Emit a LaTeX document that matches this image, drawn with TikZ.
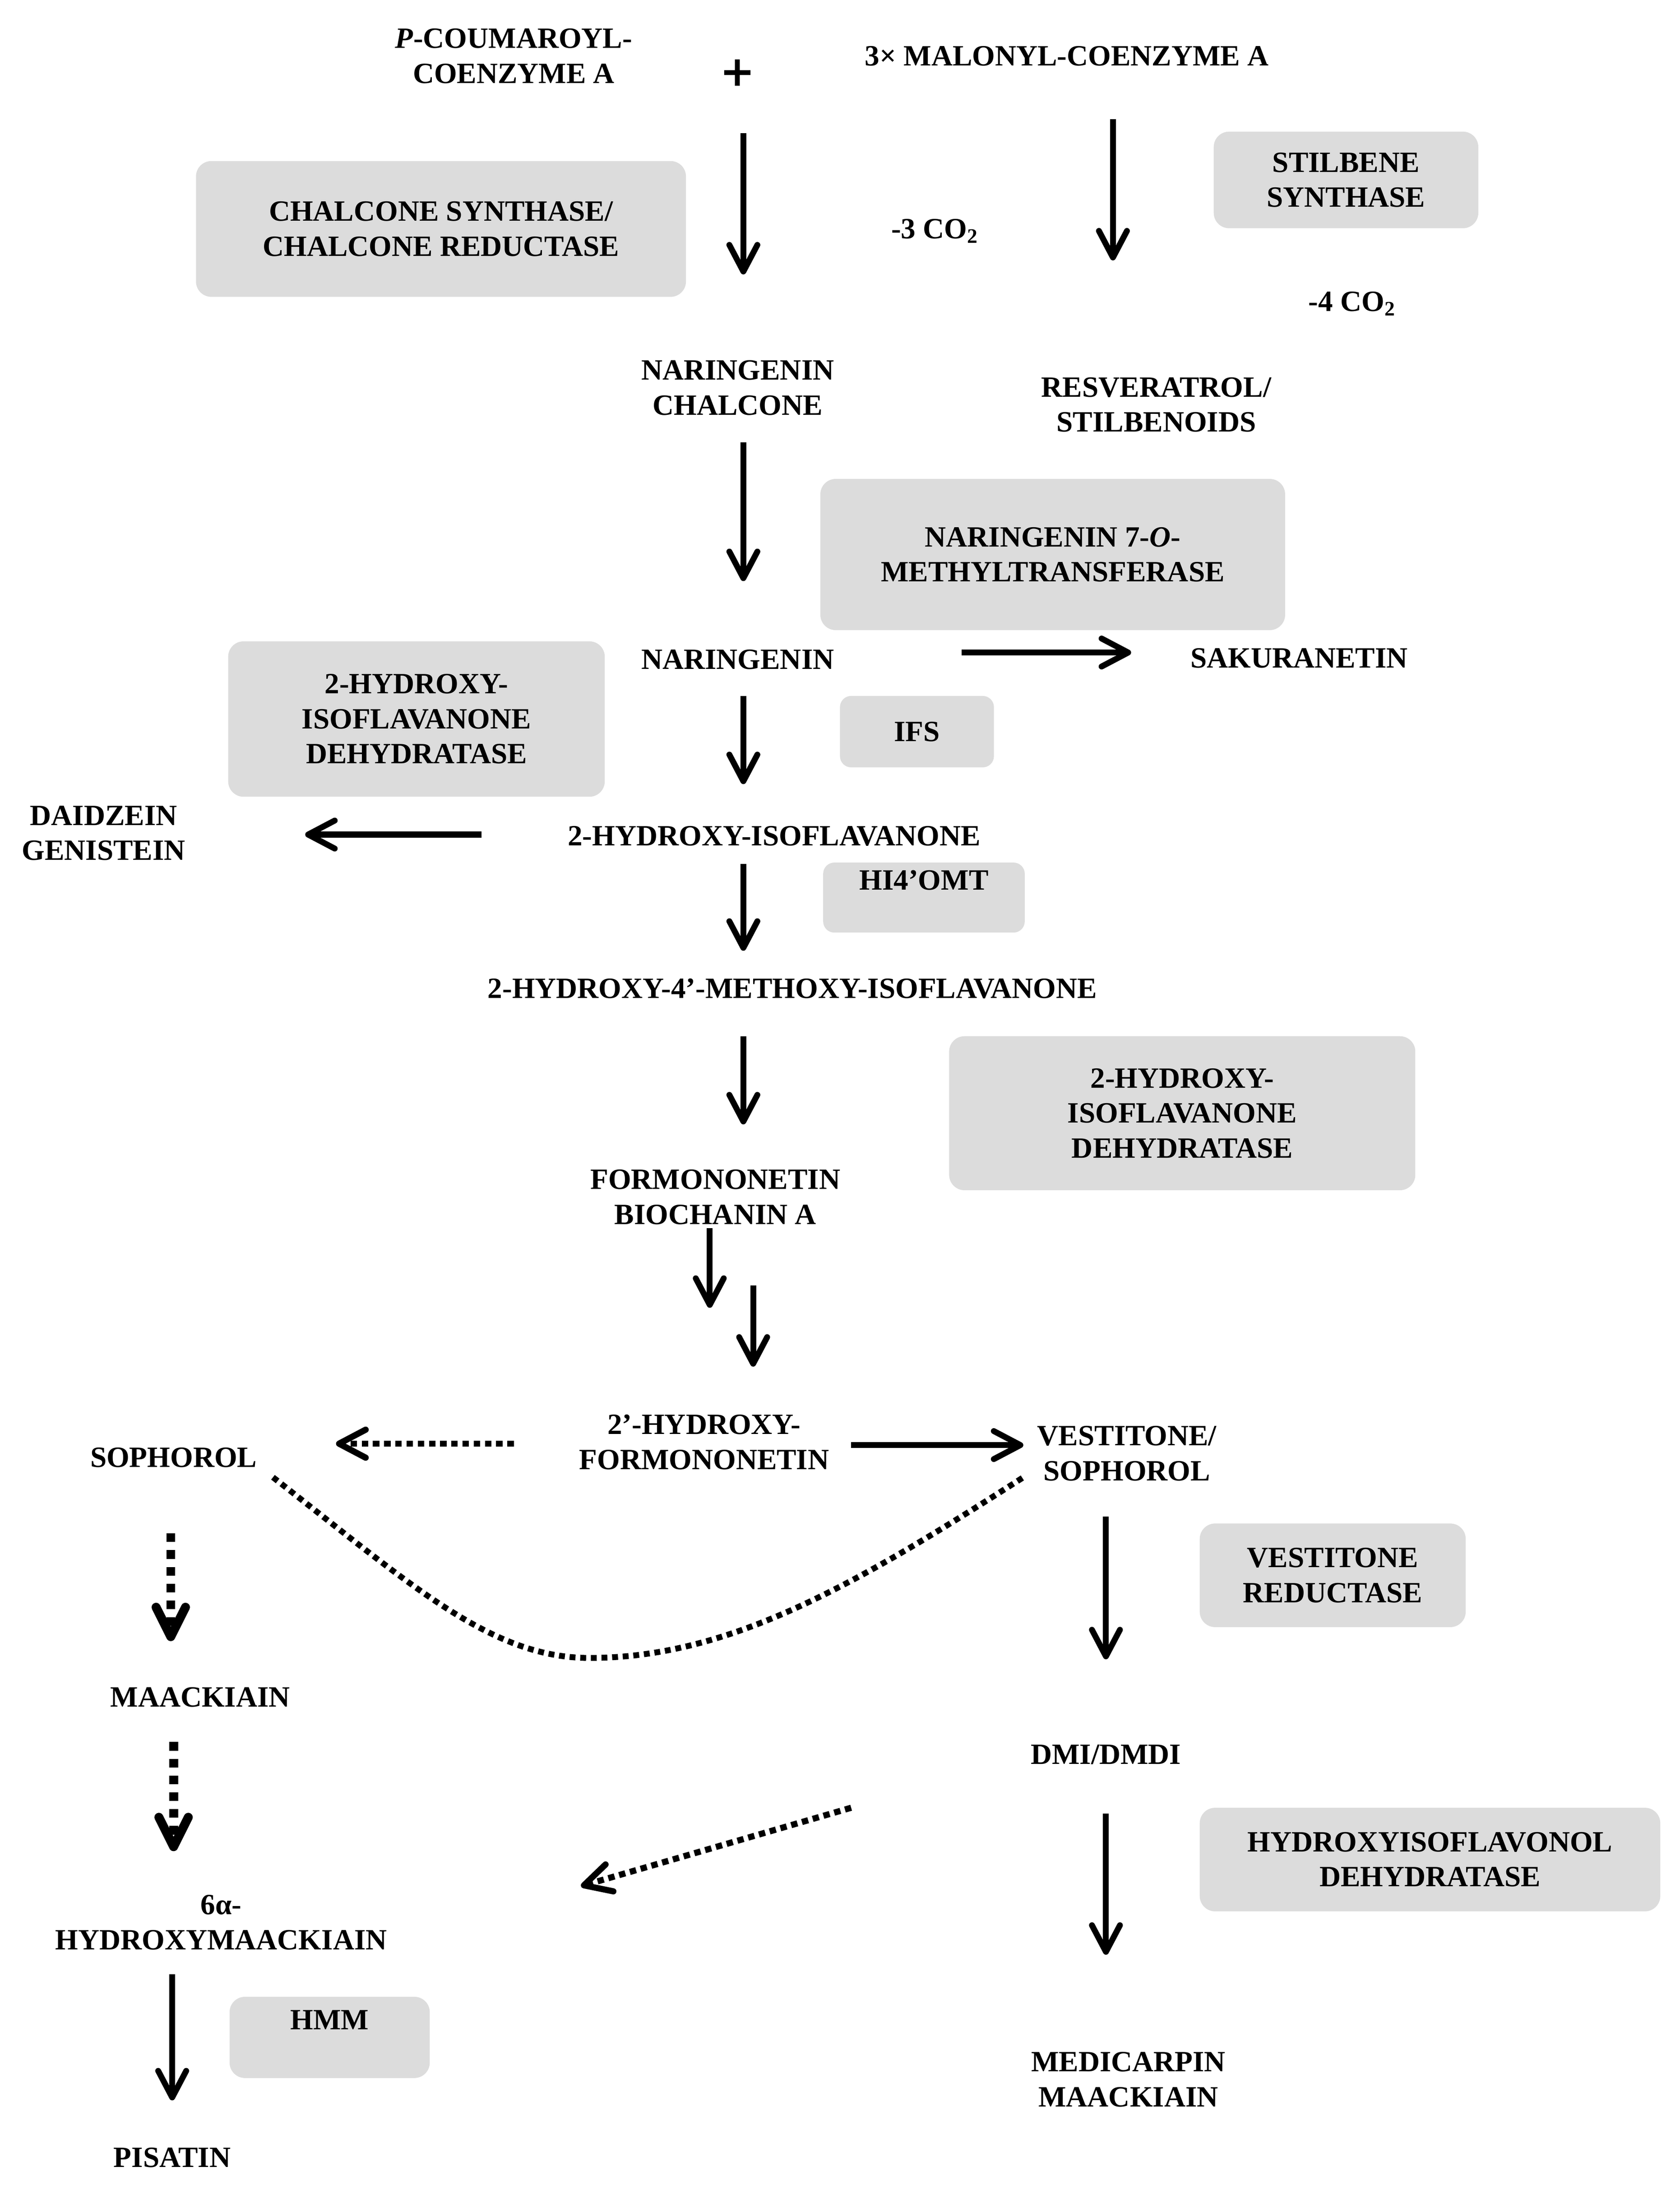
\documentclass[tikz,border=0pt]{standalone}
\usepackage{fontspec}
\setmainfont{Liberation Serif}
\newfontfamily\plusfont{DejaVu Sans}
\usetikzlibrary{arrows.meta,calc}
\definecolor{boxgray}{RGB}{220,220,220}
\newcommand\dfont{\fontsize{10.5}{12.5}\selectfont\bfseries}
\begin{document}
\begin{tikzpicture}[x=0.5pt,y=-0.5pt,
  txt/.style={align=center,inner sep=0pt,font=\dfont},
  enz/.style={fill=boxgray,rounded corners=5.5pt,align=center,inner sep=0pt,font=\dfont},
  tipA/.style={-{Straight Barb[length=9.5pt,width=10pt,round]}},
  arr/.style={line width=2.1pt,tipA},
  dasharr/.style={line width=2.2pt,dash pattern=on 2.3pt off 1.7pt,tipA},
  vdasharr/.style={line width=3.2pt,dash pattern=on 3.1pt off 2.9pt,-{Straight Barb[length=10.5pt,width=10.5pt,round]}},
  curvedash/.style={line width=2.1pt,dash pattern=on 2.1pt off 1.7pt},
]
\path[use as bounding box] (0,0) rectangle (1200,1564);

% substrates and products
\node[txt] (coum) at (367,40) {\textit{P}-COUMAROYL-\\COENZYME A};
\node[txt,font=\fontsize{15}{15}\selectfont\plusfont\bfseries] (plus) at (527,52) {+};
\node[txt] (malo) at (762,40) {3× MALONYL-COENZYME A};
\node[txt] (co2a) at (668,165) {-3 CO\textsubscript{2}};
\node[txt] (co2b) at (966,217) {-4 CO\textsubscript{2}};
\node[txt] (nchal) at (527,277) {NARINGENIN\\CHALCONE};
\node[txt] (resv) at (826,289) {RESVERATROL/\\STILBENOIDS};
\node[txt] (nar) at (527,471) {NARINGENIN};
\node[txt] (sak) at (928,470) {SAKURANETIN};
\node[txt] (daid) at (74,595) {DAIDZEIN\\GENISTEIN};
\node[txt] (hiso) at (553,597) {2-HYDROXY-ISOFLAVANONE};
\node[txt] (mhiso) at (566,706) {2-HYDROXY-4’-METHOXY-ISOFLAVANONE};
\node[txt] (formo) at (511,855) {FORMONONETIN\\BIOCHANIN A};
\node[txt] (hf) at (503,1030) {2’-HYDROXY-\\FORMONONETIN};
\node[txt] (soph) at (124,1041) {SOPHOROL};
\node[txt] (vest) at (805,1038) {VESTITONE/\\SOPHOROL};
\node[txt] (maack) at (143,1212) {MAACKIAIN};
\node[txt] (dmi) at (790,1253) {DMI/DMDI};
\node[txt] (hmaack) at (158,1373) {6α-\\HYDROXYMAACKIAIN};
\node[txt] (medi) at (806,1485) {MEDICARPIN\\MAACKIAIN};
\node[txt] (pis) at (123,1541) {PISATIN};

% enzymes
\node[enz,minimum width=175pt,minimum height=48.5pt] (csbox) at (315,163.5) {CHALCONE SYNTHASE/\\CHALCONE REDUCTASE};
\node[enz,minimum width=94.5pt,minimum height=34.5pt] (stbox) at (961.5,128.5) {STILBENE\\SYNTHASE};
\node[enz,minimum width=166pt,minimum height=54pt] (nombox) at (752,396) {NARINGENIN 7-\textit{O}-\\METHYLTRANSFERASE};
\node[enz,minimum width=134.5pt,minimum height=55.5pt] (hidA) at (297.5,513.5) {2-HYDROXY-\\ISOFLAVANONE\\DEHYDRATASE};
\node[enz,rounded corners=4pt,minimum width=55pt,minimum height=25.5pt] (ifs) at (655,522.5) {IFS};
\node[enz,rounded corners=4pt,minimum width=72pt,minimum height=25pt] (hi4) at (660,641) {HI4’OMT\\\mbox{}};
\node[enz,minimum width=166.5pt,minimum height=55pt] (hidB) at (844.5,795) {2-HYDROXY-\\ISOFLAVANONE\\DEHYDRATASE};
\node[enz,minimum width=95pt,minimum height=37pt] (vrbox) at (952,1125) {VESTITONE\\REDUCTASE};
\node[enz,minimum width=164.5pt,minimum height=37pt] (hidC) at (1021.5,1328) {HYDROXYISOFLAVONOL\\DEHYDRATASE};
\node[enz,minimum width=71.5pt,minimum height=29pt] (hmm) at (235.5,1455) {HMM\\\mbox{}};

% connectors
\draw[arr] ($(plus)+(4,43)$) -- ($(nchal)+(4,-81)$);
\draw[arr] ($(malo)+(33,45)$) -- ($(resv)+(-31,-103)$);
\draw[arr] ($(nchal)+(4,39)$) -- ($(nar)+(4,-56)$);
\draw[arr] ($(nar)+(160,-5)$) -- ($(sak)+(-120,-4)$);
\draw[arr] ($(nar)+(4,26)$) -- ($(hiso)+(-22,-37)$);
\draw[arr] ($(hiso)+(-209,-1)$) -- ($(daid)+(144,1)$);
\draw[arr] ($(hiso)+(-22,20)$) -- ($(mhiso)+(-35,-27)$);
\draw[arr] ($(mhiso)+(-35,34)$) -- ($(formo)+(20,-52)$);
\draw[arr] ($(formo)+(-4,22)$) -- ($(hf)+(4,-96)$);
\draw[arr] ($(formo)+(27,63)$) -- ($(hf)+(35,-54)$);
\draw[dasharr] ($(hf)+(-136,1)$) -- ($(soph)+(116,-10)$);
\draw[arr] ($(hf)+(105,2)$) -- ($(vest)+(-74,-6)$);
\coordinate (cbot) at (421,1184);
\draw[curvedash] ($(soph)+(71,14)$) .. controls (295,1133) and (351,1184) .. (cbot)
  .. controls (521,1184) and (611,1132) .. ($(vest)+(-74,17)$);
\draw[vdasharr] ($(soph)+(-2,54)$) -- ($(maack)+(-21,-40)$);
\draw[arr] ($(vest)+(-15,45)$) -- ($(dmi)+(0,-68)$);
\draw[vdasharr] ($(maack)+(-19,32)$) -- ($(hmaack)+(-34,-51)$);
\draw[dasharr] ($(dmi)+(-182,38)$) -- ($(hmaack)+(257,-26)$);
\draw[arr] ($(dmi)+(0,42)$) -- ($(medi)+(-16,-89)$);
\draw[arr] ($(hmaack)+(-35,37)$) -- ($(pis)+(0,-41)$);
\end{tikzpicture}
\end{document}
